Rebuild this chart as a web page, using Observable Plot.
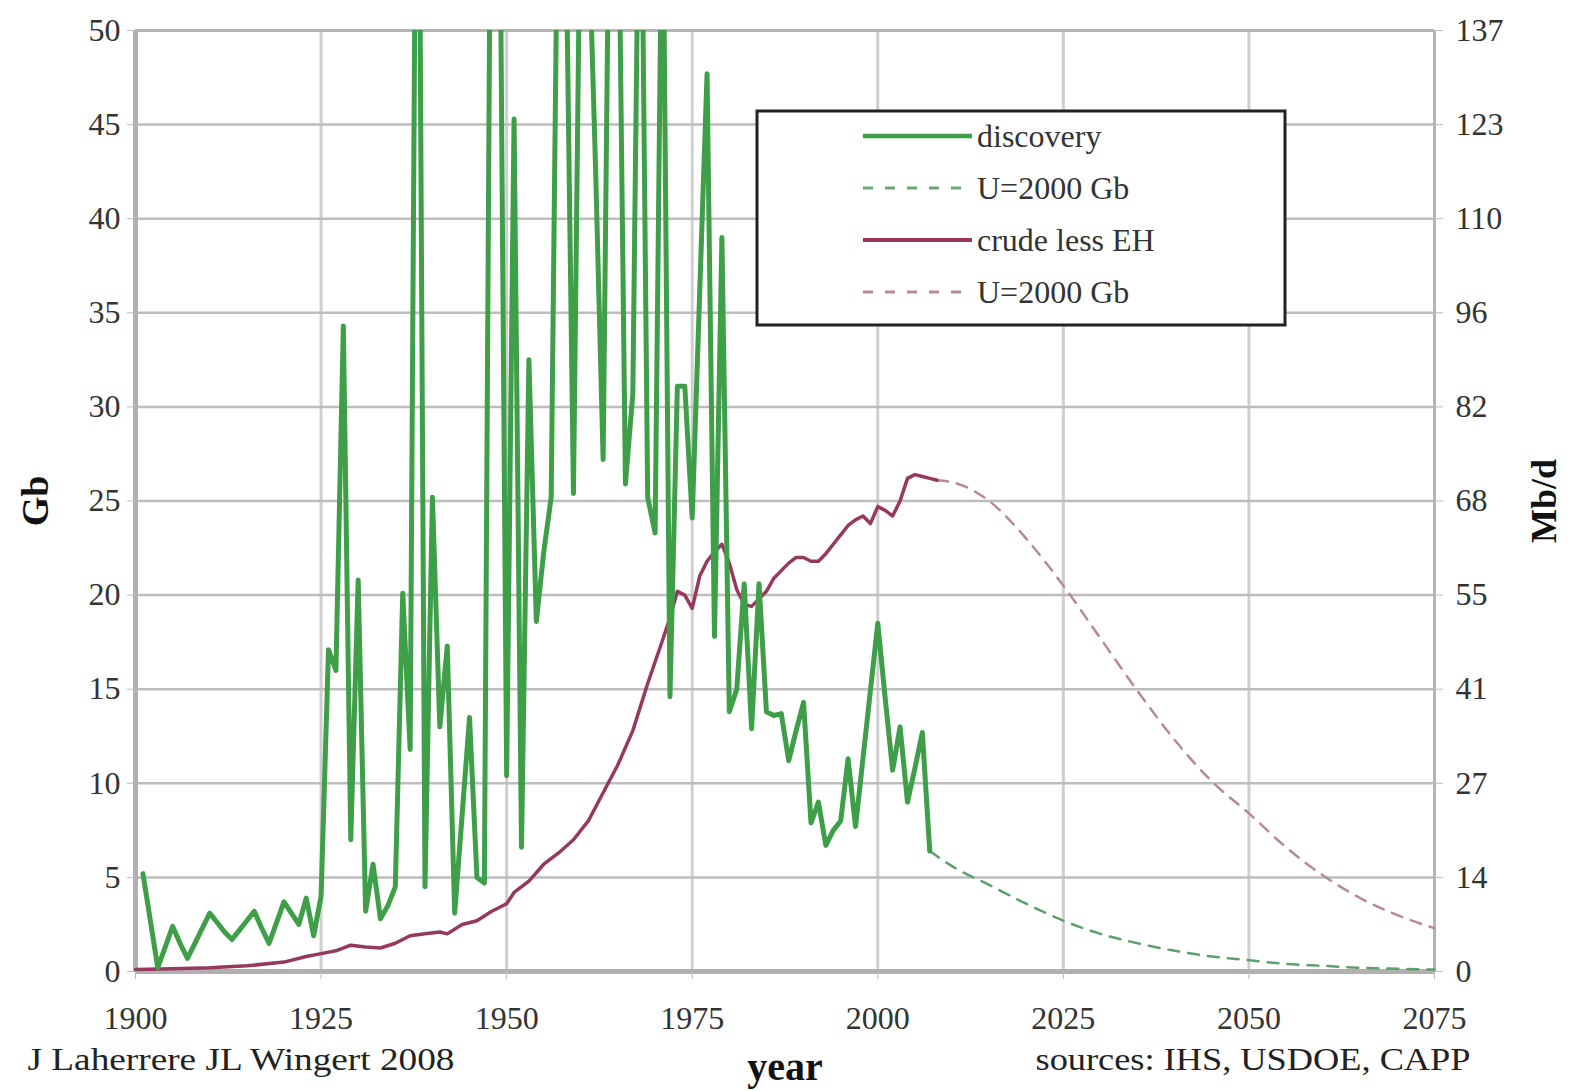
<!DOCTYPE html>
<html>
<head>
<meta charset="utf-8">
<script src="https://cdn.jsdelivr.net/npm/d3@7"></script>
<script src="https://cdn.jsdelivr.net/npm/@observablehq/plot@0.6"></script>
<style>
  html, body { margin: 0; padding: 0; background: #fff; }
  #wrap { position: relative; width: 1569px; height: 1091px; }
  #wrap svg { font-family: "Liberation Serif", "Times New Roman", serif; }
  #legend { position: absolute; left: 0; top: 0; }
</style>
</head>
<body>
<div id="wrap"></div>
<script>
// ---- data ----
const xTicks = [1900, 1925, 1950, 1975, 2000, 2025, 2050, 2075];
const yTicks = [0, 5, 10, 15, 20, 25, 30, 35, 40, 45, 50];
const rightLabels = ["0", "14", "27", "41", "55", "68", "82", "96", "110", "123", "137"];

// annual discovery (Gb), 1901..2007 (values above 50 are off the chart)
const discoveryStart = 1901;
const discovery = [
  5.2, 2.7, 0.2, 1.3, 2.4, 1.5, 0.7, 1.5, 2.3, 3.1,      // 1901-1910
  2.6, 2.1, 1.7, 2.2, 2.7, 3.2, 2.3, 1.5, 2.6, 3.7,      // 1911-1920
  3.1, 2.5, 3.9, 1.9, 4.0, 17.1, 16.0, 34.3, 7.0, 20.8,  // 1921-1930
  3.2, 5.7, 2.8, 3.5, 4.5, 20.1, 11.8, 75, 4.5, 25.2,    // 1931-1940
  13.0, 17.3, 3.1, 8.3, 13.5, 5.0, 4.7, 70, 62, 10.4,    // 1941-1950
  45.3, 6.6, 32.5, 18.6, 22.3, 25.2, 62, 55, 25.4, 60,   // 1951-1960
  56, 42.4, 27.2, 65, 60, 25.9, 30.7, 65, 25.2, 23.3,    // 1961-1970
  60, 14.6, 31.1, 31.1, 24.1, 36, 47.7, 17.8, 39.0, 13.8,// 1971-1980
  15.0, 20.6, 12.9, 20.6, 13.8, 13.6, 13.7, 11.2, 12.8, 14.3, // 1981-1990
  7.9, 9.0, 6.7, 7.5, 8.0, 11.3, 7.7, 11.3, 14.9, 18.5,  // 1991-2000
  14.5, 10.7, 13.0, 9.0, 10.8, 12.7, 6.4                 // 2001-2007
];

// discovery forecast, U=2000 Gb
const discFcYears = [2007, 2010, 2015, 2020, 2025, 2030, 2035, 2040, 2045, 2050, 2055, 2060, 2065, 2070, 2075];
const discFcValues = [6.4, 5.6, 4.6, 3.6, 2.7, 2.0, 1.5, 1.1, 0.8, 0.6, 0.4, 0.3, 0.2, 0.15, 0.1];

// crude less EH production (Gb/a)
const crudeYears = [1900, 1905, 1910, 1915, 1920, 1923, 1925, 1927, 1929, 1931, 1933, 1935, 1937, 1939, 1941, 1942, 1944, 1946, 1948, 1950,
  1951, 1953, 1955, 1957, 1959, 1961, 1963, 1965, 1967, 1969, 1971, 1972, 1973, 1974, 1975, 1976, 1977, 1978, 1979, 1980,
  1981, 1982, 1983, 1984, 1985, 1986, 1987, 1988, 1989, 1990, 1991, 1992, 1993, 1994, 1995, 1996, 1997, 1998, 1999, 2000,
  2001, 2002, 2003, 2004, 2005, 2006, 2007, 2008];
const crudeValues = [0.1, 0.15, 0.2, 0.3, 0.5, 0.8, 0.95, 1.1, 1.4, 1.3, 1.25, 1.5, 1.9, 2.0, 2.1, 2.0, 2.5, 2.7, 3.2, 3.6,
  4.2, 4.8, 5.7, 6.3, 7.0, 8.0, 9.5, 11.0, 12.8, 15.3, 17.6, 18.8, 20.2, 20.0, 19.3, 21.0, 21.8, 22.3, 22.7, 21.7,
  20.3, 19.5, 19.4, 19.8, 20.2, 20.9, 21.3, 21.7, 22.0, 22.0, 21.8, 21.8, 22.2, 22.7, 23.2, 23.7, 24.0, 24.2, 23.8, 24.7,
  24.5, 24.2, 25.0, 26.2, 26.4, 26.3, 26.2, 26.1];

// crude forecast, U=2000 Gb
const crudeFcYears = [2008, 2010, 2015, 2020, 2025, 2030, 2035, 2040, 2045, 2050, 2055, 2060, 2065, 2070, 2075];
const crudeFcValues = [26.1, 26.0, 25.0, 23.0, 20.5, 17.7, 14.9, 12.3, 10.1, 8.4, 6.6, 5.1, 3.9, 3.0, 2.3];

const legendItems = [
  {label: "discovery", color: "#3f9e48", dash: null, width: 4.5},
  {label: "U=2000 Gb", color: "#6aa878", dash: "10,12", width: 3},
  {label: "crude less EH", color: "#97385f", dash: null, width: 4},
  {label: "U=2000 Gb", color: "#b58a9c", dash: "10,12", width: 3}
];

const creditLeft = "J Laherrere JL Wingert 2008";
const creditRight = "sources: IHS, USDOE, CAPP";

// ---- tables ----
const discRows = discovery.map((v, i) => ({year: discoveryStart + i, value: v}));
const discFcRows = discFcYears.map((y, i) => ({year: y, value: discFcValues[i]}));
const crudeRows = crudeYears.map((y, i) => ({year: y, value: crudeValues[i]}));
const crudeFcRows = crudeFcYears.map((y, i) => ({year: y, value: crudeFcValues[i]}));

const font = "Liberation Serif";
const fs = 32;

const chart = Plot.plot({
  width: 1569,
  height: 1091,
  marginLeft: 135,
  marginRight: 135,
  marginTop: 30,
  marginBottom: 120,
  x: {domain: [1900, 2075]},
  y: {domain: [0, 50]},
  style: {fontFamily: font, fontSize: fs + "px", background: "#fff", color: "#333"},
  marks: [
    Plot.gridX(xTicks, {stroke: "#cfcfcf", strokeWidth: 3, strokeOpacity: 1}),
    Plot.gridY(yTicks, {stroke: "#bdbdbd", strokeWidth: 2.5, strokeOpacity: 1}),
    Plot.ruleY([50], {stroke: "#b5b5b5", strokeWidth: 3}),
    Plot.ruleX([2075], {stroke: "#b5b5b5", strokeWidth: 3}),
    Plot.ruleX([1900], {stroke: "#b0b0b0", strokeWidth: 5}),
    Plot.ruleY([0], {stroke: "#b0b0b0", strokeWidth: 5}),
    Plot.axisX(xTicks, {anchor: "bottom", tickFormat: d => String(d), tickSize: 8, tickPadding: 27, stroke: "#bbb", label: null, fontSize: fs, fontFamily: font}),
    Plot.axisY(yTicks, {anchor: "left", tickSize: 8, tickPadding: 7, stroke: "#bbb", label: null, fontSize: fs, fontFamily: font}),
    Plot.axisY(yTicks, {anchor: "right", tickSize: 8, tickPadding: 13, stroke: "#bbb", label: null, fontSize: fs, fontFamily: font,
      tickFormat: d => rightLabels[yTicks.indexOf(d)]}),
    Plot.line(crudeFcRows, {x: "year", y: "value", stroke: "#b58a9c", strokeWidth: 2.5, strokeDasharray: "11,9", curve: "monotone-x"}),
    Plot.line(discFcRows, {x: "year", y: "value", stroke: "#5f9f6e", strokeWidth: 2.5, strokeDasharray: "11,9", curve: "monotone-x"}),
    Plot.line(crudeRows, {x: "year", y: "value", stroke: "#97385f", strokeWidth: 3.5, curve: "linear"}),
    Plot.line(discRows, {x: "year", y: "value", stroke: "#3f9e48", strokeWidth: 5, clip: true}),
    Plot.text(["Gb"], {frameAnchor: "left", textAnchor: "middle", dx: -100, rotate: -90, fontWeight: "bold", fontSize: 38, fill: "#111", fontFamily: font}),
    Plot.text(["Mb/d"], {frameAnchor: "right", textAnchor: "middle", dx: 110, rotate: -90, fontWeight: "bold", fontSize: 36, fill: "#111", fontFamily: font}),
    Plot.text(["year"], {frameAnchor: "bottom", textAnchor: "middle", dy: 108, fontWeight: "bold", fontSize: 40, fill: "#111", fontFamily: font}),
    Plot.text([creditLeft], {frameAnchor: "bottom-left", textAnchor: "start", dx: -108, dy: 98, fontSize: fs, fill: "#222", fontFamily: font}),
    Plot.text([creditRight], {frameAnchor: "bottom-right", textAnchor: "end", dx: 36, dy: 98, fontSize: fs, fill: "#222", fontFamily: font})
  ]
});

// stretch the two credit lines to the reference widths
d3.select(chart).selectAll("text").each(function() {
  const t = this.textContent;
  if (t === creditLeft) d3.select(this).attr("textLength", 427).attr("lengthAdjust", "spacingAndGlyphs");
  if (t === creditRight) d3.select(this).attr("textLength", 435).attr("lengthAdjust", "spacingAndGlyphs");
});

const wrap = document.getElementById("wrap");
wrap.appendChild(chart);

// legend overlay
const lg = d3.select(wrap).append("svg")
  .attr("id", "legend")
  .attr("width", 1569).attr("height", 1091)
  .style("pointer-events", "none");
lg.append("rect")
  .attr("x", 757).attr("y", 111).attr("width", 528).attr("height", 214)
  .attr("fill", "#fff").attr("stroke", "#222").attr("stroke-width", 3);
legendItems.forEach((d, i) => {
  const cy = 136 + i * 52;
  lg.append("line")
    .attr("x1", 863).attr("x2", 972).attr("y1", cy).attr("y2", cy)
    .attr("stroke", d.color).attr("stroke-width", d.width)
    .attr("stroke-dasharray", d.dash);
  lg.append("text")
    .attr("x", 977).attr("y", cy).attr("dy", "0.35em")
    .attr("font-family", font).attr("font-size", 32).attr("fill", "#333")
    .text(d.label);
});
</script>
</body>
</html>
